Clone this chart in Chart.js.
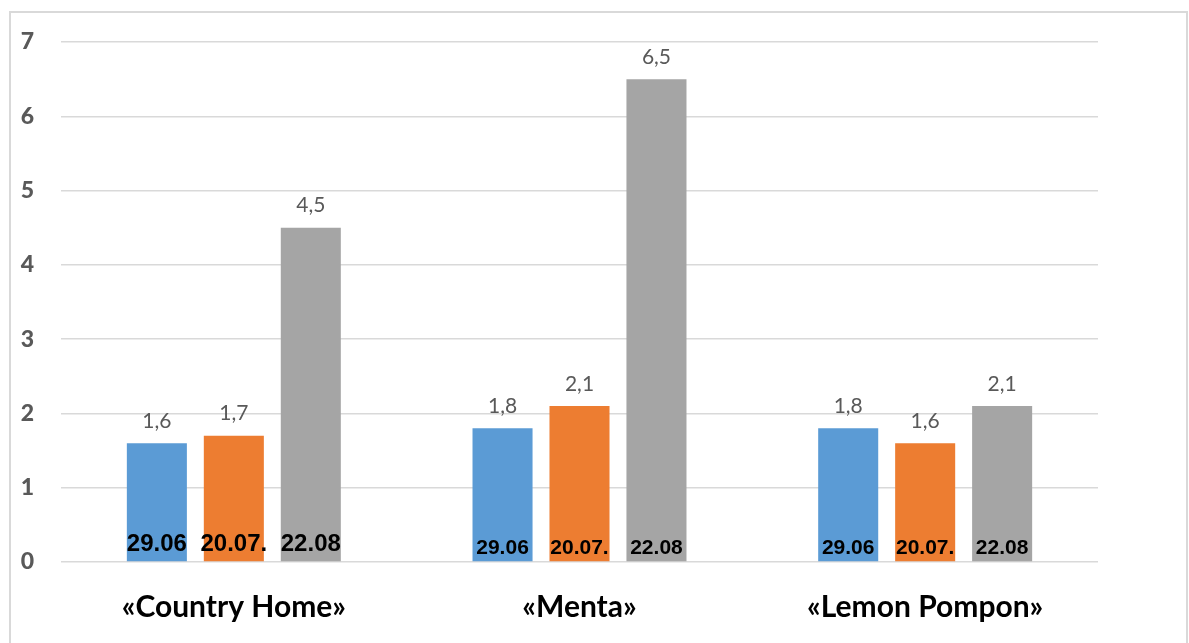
<!DOCTYPE html>
<html>
<head>
<meta charset="utf-8">
<script src="https://cdn.jsdelivr.net/npm/chart.js@4"></script>
<style>
  html, body { margin: 0; padding: 0; background: #fff; }
  #wrap { width: 1189px; height: 643px; position: relative; }
</style>
</head>
<body>
<div id="wrap"><canvas id="chart"></canvas></div>
<script>
const categories = ["«Country Home»", "«Menta»", "«Lemon Pompon»"];
const seriesNames = ["29.06", "20.07.", "22.08"];
const june = [1.6, 1.8, 1.8];
const july = [1.7, 2.1, 1.6];
const august = [4.5, 6.5, 2.1];
const yTicks = [0, 1, 2, 3, 4, 5, 6, 7];

const colors = ["#5b9bd5", "#ed7d31", "#a5a5a5"];

// frame around the picture
const frame = {
  id: "frame",
  beforeDraw(chart) {
    const c = chart.ctx;
    c.save();
    c.strokeStyle = "#d9d9d9";
    c.lineWidth = 2;
    c.beginPath();
    c.moveTo(10, 650);
    c.lineTo(10, 12);
    c.lineTo(1187, 12);
    c.lineTo(1187, 650);
    c.stroke();
    c.restore();
  }
};

// value labels above bars, series names inside at the bottom
const labels = {
  id: "labels",
  afterDatasetsDraw(chart) {
    const c = chart.ctx;
    c.save();
    c.textAlign = "center";
    c.textBaseline = "middle";
    chart.data.datasets.forEach((ds, i) => {
      const meta = chart.getDatasetMeta(i);
      meta.data.forEach((bar, j) => {
        c.fillStyle = "#595959";
        c.font = "21px Lato";
        c.fillText(String(ds.data[j]).replace(".", ","), bar.x, bar.y - 22);
        c.fillStyle = "#000";
        if (j === 0) {
          c.font = "bold 24px 'Liberation Sans'";
          c.fillText(ds.label, bar.x, bar.base - 17);
        } else {
          c.font = "bold 21px 'Liberation Sans'";
          c.fillText(ds.label, bar.x, bar.base - 13);
        }
      });
    });
    c.restore();
  }
};

new Chart(document.getElementById("chart"), {
  type: "bar",
  data: {
    labels: categories,
    datasets: [june, july, august].map((d, i) => ({
      label: seriesNames[i],
      data: d,
      backgroundColor: colors[i],
      categoryPercentage: 0.668,
      barPercentage: 0.78
    }))
  },
  options: {
    responsive: true,
    maintainAspectRatio: false,
    animation: false,
    layout: { padding: { top: 42, right: 91, left: 0, bottom: 0 } },
    plugins: { legend: { display: false }, tooltip: { enabled: false } },
    scales: {
      x: {
        grid: { display: false },
        border: { display: false },
        ticks: { color: "#000", font: { family: "Lato", size: 30, weight: "bold" }, padding: 19 },
        afterFit(s) { s.height = 81; }
      },
      y: {
        min: 0,
        max: 7,
        afterBuildTicks(s) { s.ticks = yTicks.map(v => ({ value: v })); },
        grid: { color: "#d9d9d9", lineWidth: 1.5, drawTicks: false },
        border: { display: false },
        ticks: { color: "#595959", font: { family: "Lato", size: 23, weight: "900" }, padding: 27 },
        afterFit(s) { s.width = 61; }
      }
    }
  },
  plugins: [frame, labels]
});
</script>
</body>
</html>
